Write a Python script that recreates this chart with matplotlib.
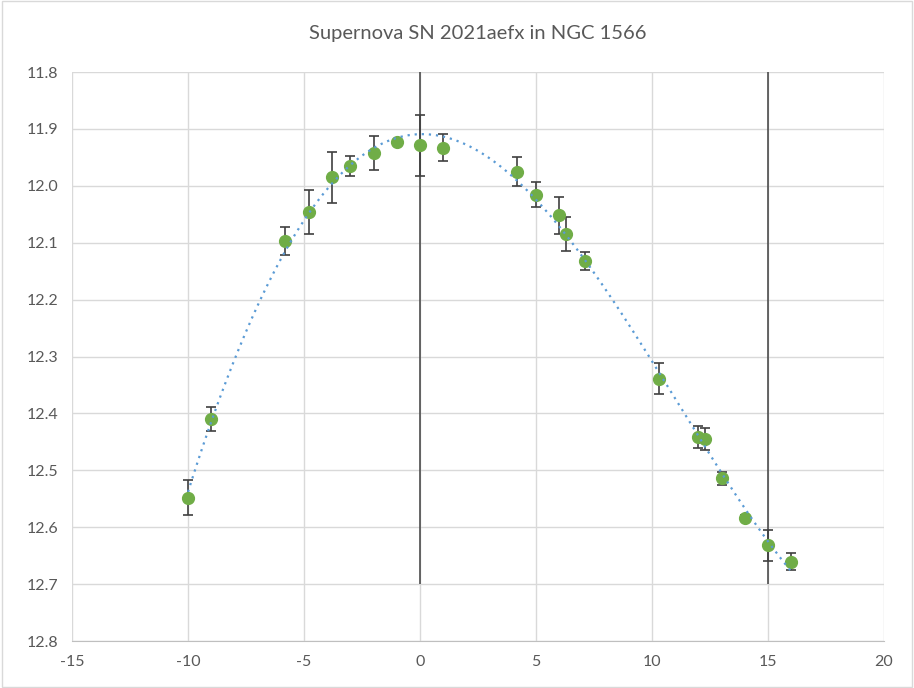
import numpy as np
import matplotlib.pyplot as plt
from matplotlib.patches import Rectangle

# days relative to maximum light and measured magnitudes
days = [-10, -9, -5.8, -4.8, -3.8, -3, -2, -1, 0, 1,
        4.2, 5, 6, 6.3, 7.1, 10.3, 12, 12.3, 13, 14, 15, 16]
mag = [12.548, 12.410, 12.097, 12.046, 11.985, 11.965, 11.942, 11.923, 11.929, 11.933,
       11.975, 12.016, 12.052, 12.084, 12.132, 12.339, 12.441, 12.445, 12.514, 12.584, 12.632, 12.661]
mag_err = [0.031, 0.021, 0.025, 0.039, 0.045, 0.018, 0.030, 0.0, 0.054, 0.024,
           0.025, 0.022, 0.032, 0.030, 0.016, 0.027, 0.019, 0.020, 0.011, 0.005, 0.027, 0.015]

x_ticks = [-15, -10, -5, 0, 5, 10, 15, 20]
y_ticks = [11.8, 11.9, 12.0, 12.1, 12.2, 12.3, 12.4, 12.5, 12.6, 12.7, 12.8]
markers_at = [0, 15]

plt.rcParams['font.family'] = ['Lato', 'DejaVu Sans']
plt.rcParams['axes.unicode_minus'] = False

fig = plt.figure(figsize=(9.14, 6.88), dpi=100)
ax = fig.add_axes([0.0788, 0.0683, 0.8884, 0.8270])

# polynomial trendline through the light curve
coef = np.polyfit(days, mag, 4)
xs = np.linspace(min(days), max(days), 300)
ax.plot(xs, np.polyval(coef, xs), color='#5B9BD5', linestyle=(0, (1, 2.2)), lw=1.6, zorder=5)

# reference lines at maximum and +15 days
ax.vlines(markers_at, 11.8, 12.7, color='#404040', lw=1.1, zorder=3)

ax.errorbar(days, mag, yerr=mag_err, fmt='none', ecolor='#404040', elinewidth=1.2,
            capsize=3.5, capthick=1.2, zorder=3)
ax.plot(days, mag, 'o', color='#70AD47', markersize=8.5, zorder=4)

ax.set_xlim(-15, 20)
ax.set_ylim(12.8, 11.8)
ax.set_xticks(x_ticks)
ax.set_yticks(y_ticks)
ax.set_yticklabels([f'{v:.1f}' for v in y_ticks])
ax.grid(True, color='#D9D9D9', lw=1.0)
ax.set_axisbelow(True)
for s in ['top', 'right', 'left']:
    ax.spines[s].set_visible(False)
ax.spines['bottom'].set_color('#BFBFBF')
ax.tick_params(length=0, labelsize=11.5, labelcolor='#595959', pad=10)

ax.set_title('Supernova SN 2021aefx in NGC 1566', fontsize=14.5, color='#595959', pad=24)

fig.patches.append(Rectangle((0.002, 0.002), 0.996, 0.996, transform=fig.transFigure,
                             fill=False, edgecolor='#D9D9D9', lw=1.0))

fig.savefig('out.png', dpi=100)
